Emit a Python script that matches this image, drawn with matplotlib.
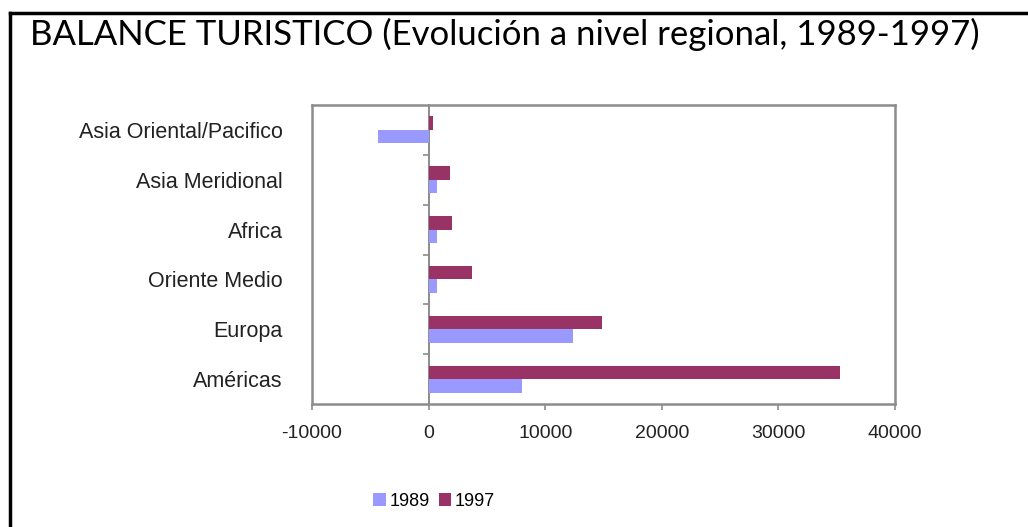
import numpy as np
import matplotlib
matplotlib.use("Agg")
import matplotlib.pyplot as plt
from matplotlib.lines import Line2D

# datos (miles), de abajo hacia arriba
regiones = ['Américas', 'Europa', 'Oriente Medio', 'Africa', 'Asia Meridional',
            'Asia Oriental/Pacifico']
valores_1989 = [8000, 12400, 700, 700, 700, -4300]
valores_1997 = [35300, 14900, 3700, 2000, 1850, 400]
xticks = [-10000, 0, 10000, 20000, 30000, 40000]

col_1989 = '#9999FF'
col_1997 = '#993366'
gris = '#8c8c8c'

plt.rcParams['font.family'] = ['Liberation Sans', 'DejaVu Sans']

fig = plt.figure(figsize=(10.28, 5.27), dpi=100)
ax = fig.add_axes([312 / 1028, 1 - 404 / 527, (895 - 312) / 1028, (404 - 105) / 527])

y = np.arange(len(regiones))
h = 0.27
ax.barh(y - h / 2, valores_1989, height=h, color=col_1989, label='1989')
ax.barh(y + h / 2, valores_1997, height=h, color=col_1997, label='1997')

ax.set_xlim(-10000, 40000)
ax.set_ylim(-0.5, len(regiones) - 0.5)
ax.set_xticks(xticks)
ax.set_xticklabels([str(v) for v in xticks])
ax.set_yticks(y)
ax.set_yticklabels(regiones)
ax.tick_params(axis='y', length=0, pad=21, labelsize=15.5, colors='#222222')
ax.tick_params(axis='x', length=4, width=1.2, pad=11, labelsize=14,
               color=gris, labelcolor='#222222')
for s in ax.spines.values():
    s.set_color(gris)
    s.set_linewidth(1.8)

# eje vertical en cero con marcas entre categorias
ejey = ax.secondary_yaxis(0.2)
ejey.set_yticks(y[:-1] + 0.5)
ejey.set_yticklabels([])
ejey.tick_params(length=4, width=1.2, color=gris)
ejey.spines['left'].set_color(gris)
ejey.spines['left'].set_linewidth(1.4)

ax.legend(loc='center', bbox_to_anchor=(434 / 1028, 1 - 501 / 527),
          bbox_transform=fig.transFigure, ncol=2, frameon=False, fontsize=13,
          handlelength=0.7, handleheight=0.7, handletextpad=0.2, columnspacing=0.5)

fig.text(30 / 1028, 1 - 45 / 527,
         'BALANCE TURISTICO (Evolución a nivel regional, 1989-1997)',
         fontsize=25, family=['Lato', 'DejaVu Sans'], va='baseline', ha='left')

# marco de la diapositiva
fig.add_artist(Line2D([10 / 1028, 1], [1 - 13 / 527, 1 - 13 / 527], color='black', lw=2.5))
fig.add_artist(Line2D([10 / 1028, 10 / 1028], [0, 1 - 13 / 527], color='black', lw=2.5))

fig.savefig('out.png', dpi=100)
